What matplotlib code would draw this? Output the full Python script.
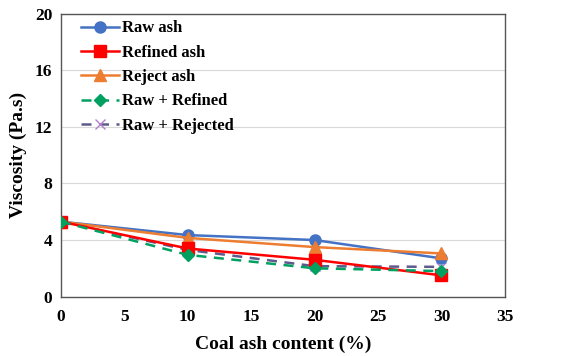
import matplotlib.pyplot as plt
from matplotlib.ticker import MultipleLocator

# === datos ===
ash_content = [0, 10, 20, 30]
raw_ash = [5.3, 4.35, 4.0, 2.7]
refined_ash = [5.3, 3.4, 2.6, 1.5]
reject_ash = [5.3, 4.15, 3.5, 3.05]
raw_refined = [5.3, 2.95, 2.0, 1.8]
raw_rejected = [5.3, 3.3, 2.15, 2.1]

plt.rcParams['font.family'] = ['Liberation Serif', 'DejaVu Serif']
plt.rcParams['font.weight'] = 'bold'

fig = plt.figure(figsize=(5.79, 3.56), dpi=100)
ax = fig.add_axes([0.105, 0.167, 0.767, 0.794])

ax.plot(ash_content, raw_ash, color='#4472C4', marker='o', ms=8, lw=1.8, label='Raw ash', zorder=3)
ax.plot(ash_content, refined_ash, color='#FF0000', marker='s', ms=8, lw=1.8, label='Refined ash', zorder=4)
ax.plot(ash_content, reject_ash, color='#ED7D31', marker='^', ms=8, lw=1.8, label='Reject ash', zorder=3)
ax.plot(ash_content, raw_refined, color='#00A060', marker='D', ms=6, lw=1.8, ls=(0, (4, 3)),
        label='Raw + Refined', zorder=5)
ax.plot(ash_content, raw_rejected, color='#5E5A8C', marker='x', ms=7, lw=1.8, ls=(0, (4, 3)),
        mec='#B07FD0', label='Raw + Rejected', zorder=2)

ax.set_xlim(0, 35)
ax.set_ylim(0, 20)
ax.xaxis.set_major_locator(MultipleLocator(5))
ax.yaxis.set_major_locator(MultipleLocator(4))
ax.grid(axis='y', color='#D9D9D9', lw=0.8)
ax.set_axisbelow(True)
for s in ax.spines.values():
    s.set_color('#555555')
    s.set_linewidth(1.0)
ax.tick_params(length=0, labelsize=12.5)
ax.tick_params(axis='x', pad=9)
ax.tick_params(axis='y', pad=6)
for lbl in ax.get_xticklabels() + ax.get_yticklabels():
    lbl.set_fontweight('bold')

ax.set_xlabel('Coal ash content (%)', fontsize=14, fontweight='bold', labelpad=8)
ax.set_ylabel('Viscosity (Pa.s)', fontsize=14, fontweight='bold', labelpad=6)

ax.legend(loc='upper left', bbox_to_anchor=(0.022, 1.012), frameon=False, handlelength=2.3,
          labelspacing=0.5, borderaxespad=0.2, handletextpad=0.2,
          prop={'weight': 'bold', 'size': 12})

fig.savefig('out.png', dpi=100)
